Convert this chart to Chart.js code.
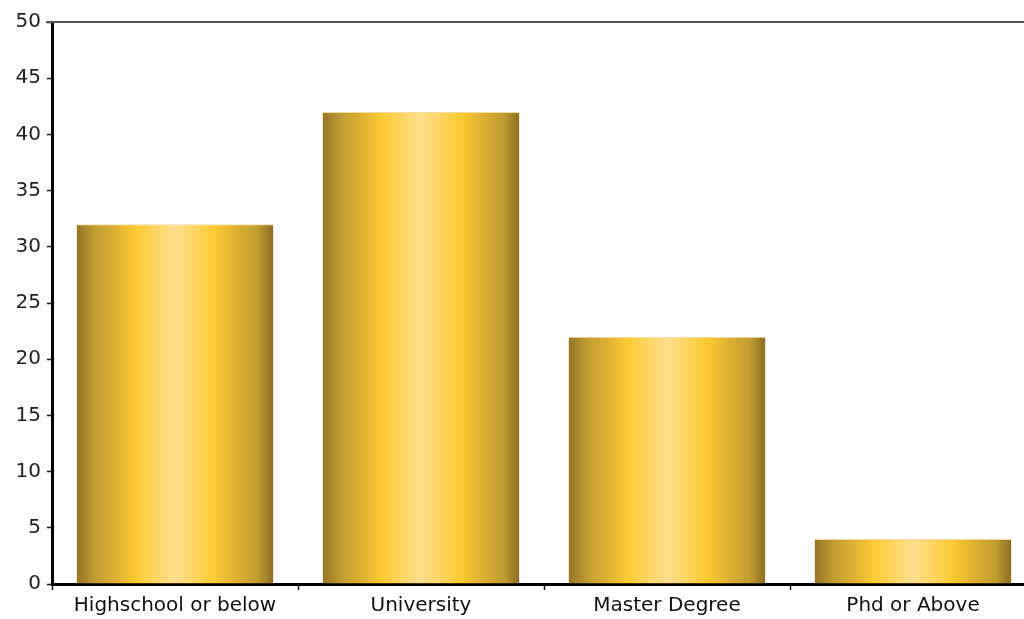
<!DOCTYPE html>
<html>
<head>
<meta charset="utf-8">
<script src="https://cdn.jsdelivr.net/npm/chart.js@4/dist/chart.umd.min.js"></script>
<style>
  html, body { margin: 0; padding: 0; background: #fff; overflow: hidden; }
  #wrap { width: 1040px; height: 619px; }
</style>
</head>
<body>
<div id="wrap"><canvas id="chart" width="1040" height="619"></canvas></div>
<script>
// Survey respondents by education level
const categories = ['Highschool or below', 'University', 'Master Degree', 'Phd or Above'];
const respondents = [32, 42, 22, 4];
const yTicks = [0, 5, 10, 15, 20, 25, 30, 35, 40, 45, 50];

const BAR_PCT = 0.8;

// Horizontal gold gradient for a cylinder-like shading across each bar
function goldFill(context) {
  const chart = context.chart;
  const xScale = chart.scales.x;
  if (!chart.chartArea || !xScale) return '#f5c42c';
  const center = xScale.getPixelForValue(context.dataIndex);
  const catWidth = (xScale.right - xScale.left) / categories.length;
  const half = catWidth * BAR_PCT / 2;
  const g = chart.ctx.createLinearGradient(center - half, 0, center + half, 0);
  g.addColorStop(0.00, '#957527');
  g.addColorStop(0.10, '#c29e32');
  g.addColorStop(0.20, '#deb133');
  g.addColorStop(0.30, '#fcca31');
  g.addColorStop(0.50, '#fde08e');
  g.addColorStop(0.70, '#fcca31');
  g.addColorStop(0.82, '#dcaf32');
  g.addColorStop(0.92, '#c09c30');
  g.addColorStop(1.00, '#8c6e22');
  return g;
}

// Thin gray frame line along the top of the plot area
const topFrame = {
  id: 'topFrame',
  afterDraw(chart) {
    const { ctx, chartArea } = chart;
    ctx.save();
    ctx.strokeStyle = '#555';
    ctx.lineWidth = 2;
    ctx.beginPath();
    ctx.moveTo(chartArea.left - 6, chartArea.top);
    ctx.lineTo(chart.width, chartArea.top);
    ctx.stroke();
    ctx.restore();
  }
};

const tickFont = { family: 'DejaVu Sans', size: 20 };

new Chart(document.getElementById('chart'), {
  type: 'bar',
  data: {
    labels: categories,
    datasets: [{
      data: respondents,
      backgroundColor: goldFill,
      borderColor: '#efdca0',
      borderWidth: { top: 1, left: 0, right: 0, bottom: 0 },
      borderSkipped: 'bottom',
      barPercentage: BAR_PCT,
      categoryPercentage: 1.0
    }]
  },
  options: {
    responsive: false,
    animation: false,
    devicePixelRatio: 1,
    layout: { padding: { top: 22, right: 4, left: 0, bottom: 0 } },
    plugins: {
      legend: { display: false },
      tooltip: { enabled: false }
    },
    scales: {
      x: {
        grid: {
          display: true,
          drawOnChartArea: false,
          drawTicks: true,
          tickLength: 6,
          tickWidth: 1.5,
          color: '#111',
          offset: true
        },
        border: { display: true, color: '#000', width: 3 },
        ticks: { color: '#111', font: tickFont, padding: 4 },
        afterFit(axis) { axis.height = 35; }
      },
      y: {
        min: 0,
        max: 50,
        afterBuildTicks(axis) { axis.ticks = yTicks.map(v => ({ value: v })); },
        grid: {
          display: true,
          drawOnChartArea: false,
          drawTicks: true,
          tickLength: 5,
          tickWidth: 1.5,
          color: '#111'
        },
        border: { display: true, color: '#000', width: 3 },
        ticks: { color: '#222', font: tickFont, padding: 6 },
        afterFit(axis) { axis.width = 52; }
      }
    }
  },
  plugins: [topFrame]
});
</script>
</body>
</html>
